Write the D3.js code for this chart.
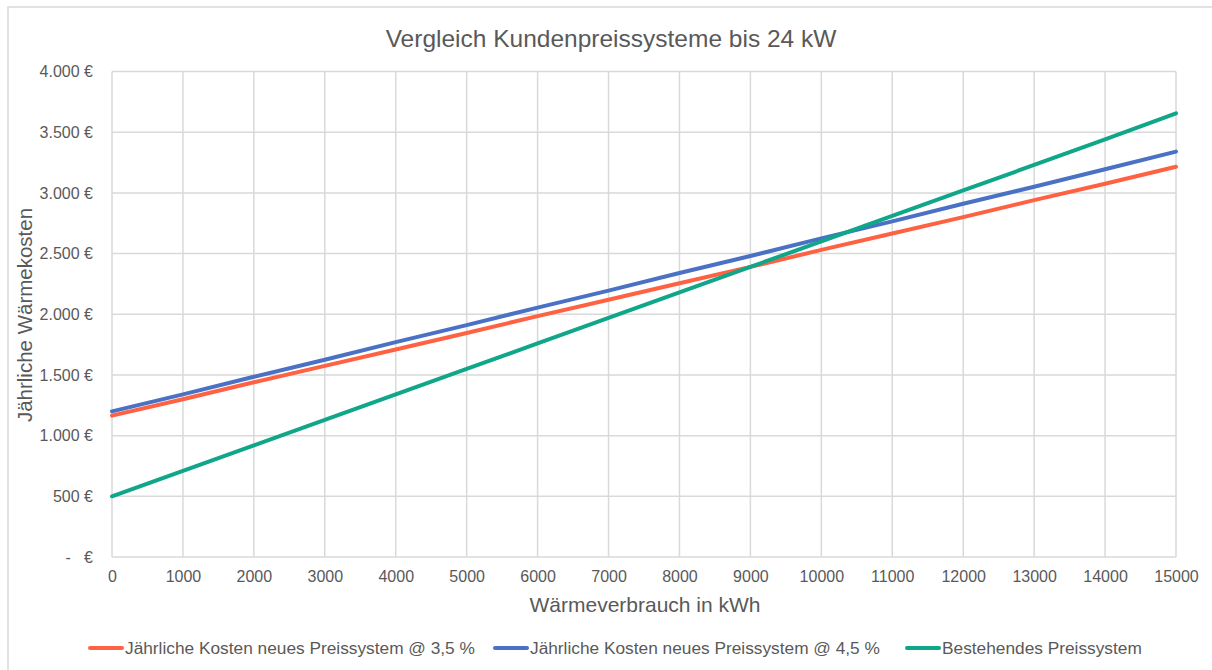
<!DOCTYPE html>
<html><head><meta charset="utf-8">
<script src="https://cdn.jsdelivr.net/npm/d3@7"></script>
<style>body{margin:0;background:#fff}svg{display:block}text{font-family:"Liberation Sans",Arial,sans-serif;fill:#595959}</style>
</head><body><svg id="c" width="1212" height="670"></svg>
<script>
const xValues = [0,1000,2000,3000,4000,5000,6000,7000,8000,9000,10000,11000,12000,13000,14000,15000];
const red35 = [1165,1300,1440,1575,1710,1845,1985,2120,2255,2390,2530,2665,2800,2940,3075,3215];
const blue45 = [1200,1340,1485,1625,1770,1910,2055,2195,2340,2480,2625,2765,2910,3050,3195,3340];
const greenBest = [500,710,920,1130,1340,1550,1760,1970,2180,2390,2600,2810,3020,3230,3440,3655];
const seriesNames = ["Jährliche Kosten neues Preissystem @ 3,5 %","Jährliche Kosten neues Preissystem @ 4,5 %","Bestehendes Preissystem"];
const seriesColors = ["#FF6242","#4A71C4","#0FA68A"];
const yTicks = [0,500,1000,1500,2000,2500,3000,3500,4000];
const yTickLabels = ["-   €","500 €","1.000 €","1.500 €","2.000 €","2.500 €","3.000 €","3.500 €","4.000 €"];
const xTicks = xValues;

const svg = d3.select("#c");
svg.append("rect").attr("x",8).attr("y",7).attr("width",1400).attr("height",900).attr("fill","none").attr("stroke","#d9d9d9").attr("stroke-width",1.5);

const x = d3.scaleLinear().domain([0,15000]).range([112,1176]);
const y = d3.scaleLinear().domain([0,4000]).range([557,71.5]);

svg.append("g").selectAll("line").data(yTicks).join("line")
  .attr("x1",x(0)).attr("x2",x(15000)).attr("y1",d=>y(d)).attr("y2",d=>y(d))
  .attr("stroke","#d9d9d9").attr("stroke-width",1.5);
svg.append("g").selectAll("line").data(xTicks).join("line")
  .attr("y1",y(0)).attr("y2",y(4000)).attr("x1",d=>x(d)).attr("x2",d=>x(d))
  .attr("stroke","#d9d9d9").attr("stroke-width",1.5);

const yAxis = d3.axisLeft(y).tickValues(yTicks).tickFormat((d,i)=>yTickLabels[i]).tickSize(0).tickPadding(19);
const gy = svg.append("g").attr("transform",`translate(${x(0)},0)`).call(yAxis);
gy.select(".domain").remove();
gy.selectAll("text").style("font-size","16px").attr("fill","#595959").style("white-space","pre");

const xAxis = d3.axisBottom(x).tickValues(xTicks).tickFormat(d=>String(d)).tickSize(0).tickPadding(14);
const gx = svg.append("g").attr("transform",`translate(0,${y(0)})`).call(xAxis);
gx.select(".domain").remove();
gx.selectAll("text").style("font-size","16px").attr("fill","#595959");

const allSeries = [red35, blue45, greenBest];
const line = d3.line().x((d,i)=>x(xValues[i])).y(d=>y(d));
allSeries.forEach((s,k)=>{
  svg.append("path").datum(s).attr("d",line).attr("fill","none")
    .attr("stroke",seriesColors[k]).attr("stroke-width",4).attr("stroke-linecap","round");
});

svg.append("text").attr("x",611).attr("y",47).attr("text-anchor","middle").style("font-size","24.5px").text("Vergleich Kundenpreissysteme bis 24 kW");
svg.append("text").attr("x",645).attr("y",612).attr("text-anchor","middle").style("font-size","21px").text("Wärmeverbrauch in kWh");
svg.append("text").attr("transform","translate(32,315) rotate(-90)").attr("text-anchor","middle").style("font-size","20.5px").text("Jährliche Wärmekosten");

const legX = [88,493,905];
const lg = svg.append("g");
seriesNames.forEach((n,k)=>{
  lg.append("line").attr("x1",legX[k]+2).attr("x2",legX[k]+34).attr("y1",648).attr("y2",648)
    .attr("stroke",seriesColors[k]).attr("stroke-width",4).attr("stroke-linecap","round");
  lg.append("text").attr("x",legX[k]+37).attr("y",654).style("font-size","17.3px").text(n);
});
</script></body></html>
